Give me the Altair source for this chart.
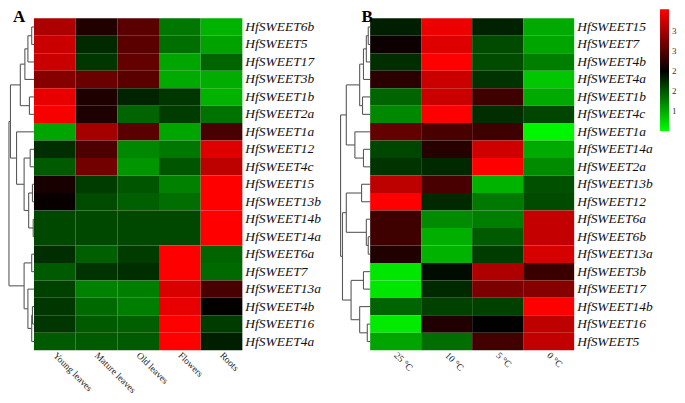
import altair as alt
import pandas as pd

SERIF = "Liberation Serif"

# ---------------- Panel A data ----------------
genes_a = ["HfSWEET6b", "HfSWEET5", "HfSWEET17", "HfSWEET3b", "HfSWEET1b", "HfSWEET2a",
           "HfSWEET1a", "HfSWEET12", "HfSWEET4c", "HfSWEET15", "HfSWEET13b", "HfSWEET14b",
           "HfSWEET14a", "HfSWEET6a", "HfSWEET7", "HfSWEET13a", "HfSWEET4b", "HfSWEET16", "HfSWEET4a"]
tissues = ["Young leaves", "Mature leaves", "Old leaves", "Flowers", "Roots"]
young_leaves = [3.05, 3.23, 3.23, 2.82, 3.41, 3.50, 1.03, 1.73, 1.47, 2.15, 2.05, 1.58, 1.58, 1.73, 1.47, 1.62, 1.68, 1.68, 1.47]
mature_leaves = [2.20, 1.76, 1.68, 2.65, 2.18, 2.18, 3.00, 2.47, 2.70, 1.65, 1.56, 1.58, 1.58, 1.44, 1.70, 1.24, 1.38, 1.47, 1.47]
old_leaves = [2.55, 2.55, 2.60, 2.55, 1.79, 1.41, 2.55, 1.20, 1.12, 1.50, 1.44, 1.58, 1.58, 1.65, 1.73, 1.26, 1.26, 1.44, 1.47]
flowers = [1.30, 1.35, 1.03, 1.00, 1.68, 1.65, 1.03, 1.30, 1.50, 1.24, 1.35, 1.58, 1.58, 3.55, 3.55, 3.32, 3.41, 3.55, 3.55]
roots = [0.95, 1.05, 1.41, 0.98, 0.95, 1.33, 2.44, 3.35, 3.15, 3.55, 3.55, 3.55, 3.55, 1.41, 1.38, 2.44, 2.02, 1.65, 1.82]

# linkage: (node, left, right, distance)
merges_a = [
    ("a1", "HfSWEET6b", "HfSWEET5", 3),
    ("a2", "a1", "HfSWEET17", 8),
    ("a3", "a2", "HfSWEET3b", 12),
    ("a4", "HfSWEET1b", "HfSWEET2a", 6),
    ("a5", "a3", "a4", 18),
    ("a6", "HfSWEET12", "HfSWEET4c", 5),
    ("a7", "HfSWEET15", "HfSWEET13b", 2),
    ("a8", "HfSWEET14b", "HfSWEET14a", 1),
    ("a9", "a7", "a8", 7),
    ("a10", "a6", "a9", 13),
    ("a11", "HfSWEET1a", "a10", 23),
    ("a12", "a5", "a11", 31),
    ("b1", "HfSWEET6a", "HfSWEET7", 3),
    ("b2", "HfSWEET4b", "HfSWEET16", 2),
    ("b3", "b2", "HfSWEET4a", 3),
    ("b4", "HfSWEET13a", "b3", 8),
    ("b5", "b1", "b4", 13),
    ("rootA", "a12", "b5", 33),
]

# ---------------- Panel B data ----------------
genes_b = ["HfSWEET15", "HfSWEET7", "HfSWEET4b", "HfSWEET4a", "HfSWEET1b", "HfSWEET4c",
           "HfSWEET1a", "HfSWEET14a", "HfSWEET2a", "HfSWEET13b", "HfSWEET12", "HfSWEET6a",
           "HfSWEET6b", "HfSWEET13a", "HfSWEET3b", "HfSWEET17", "HfSWEET14b", "HfSWEET16", "HfSWEET5"]
temps = ["25 °C", "10 °C", "5 °C", "0 °C"]
t25 = [1.82, 2.08, 1.73, 2.26, 1.41, 1.20, 2.60, 1.59, 1.70, 3.15, 3.55, 2.38, 2.38, 2.20, 0.65, 0.65, 1.41, 0.62, 1.03]
t10 = [3.44, 3.35, 3.55, 3.23, 3.23, 3.55, 2.44, 2.24, 1.76, 2.44, 1.76, 1.18, 0.97, 0.95, 1.93, 1.76, 1.62, 2.20, 1.35]
t5 = [1.80, 1.56, 1.56, 1.70, 2.38, 1.73, 2.38, 3.26, 3.55, 0.95, 1.29, 1.26, 1.47, 1.65, 3.06, 2.76, 1.62, 2.00, 2.41]
t0 = [1.00, 1.03, 1.26, 0.83, 1.00, 1.59, 0.56, 1.00, 1.18, 1.53, 1.56, 3.20, 3.20, 3.30, 2.35, 2.82, 3.55, 3.15, 3.18]

merges_b = [
    ("c1", "HfSWEET15", "HfSWEET7", 2),
    ("c2", "c1", "HfSWEET4b", 4),
    ("c3", "c2", "HfSWEET4a", 7),
    ("c4", "HfSWEET1b", "HfSWEET4c", 8),
    ("c5", "c3", "c4", 11),
    ("c6", "HfSWEET14a", "HfSWEET2a", 7),
    ("c7", "HfSWEET1a", "c6", 16),
    ("c8", "c5", "c7", 25),
    ("c9", "HfSWEET13b", "HfSWEET12", 9),
    ("c10", "HfSWEET6b", "HfSWEET13a", 2),
    ("c11", "HfSWEET6a", "c10", 4),
    ("c12", "c9", "c11", 25),
    ("c13", "HfSWEET3b", "HfSWEET17", 7),
    ("c14", "HfSWEET16", "HfSWEET5", 3),
    ("c15", "HfSWEET14b", "c14", 11),
    ("c16", "c13", "c15", 20),
    ("c17", "c12", "c16", 29),
    ("rootB", "c8", "c17", 31),
]

legend_values = [1, 1.5, 2, 2.5, 3]

ROW_DOMAIN = [-0.514, 21.6]
HEIGHT = 387

color_scale = alt.Scale(domain=[0.5, 2, 3.55], range=["#00ff00", "#000000", "#ff0000"],
                        interpolate="rgb", clamp=True)
legend = alt.Legend(title=None, orient="none", legendX=653, legendY=0, direction="vertical",
                    gradientLength=122, gradientThickness=9, gradientStrokeWidth=0,
                    values=legend_values, format="~g", labelFont=SERIF, labelFontSize=9,
                    labelColor="#333333", labelOffset=3, labelOverlap=False)


def heat_df(genes, cols, series):
    recs = []
    for c, (name, vals) in enumerate(zip(cols, series)):
        for r, (g, v) in enumerate(zip(genes, vals)):
            recs.append({"gene": g, "cond": name, "value": v,
                         "c0": c, "c1": c + 1, "r0": r, "r1": r + 1})
    return pd.DataFrame(recs)


def dendro_df(genes, merges, span):
    pos = {g: (i + 0.5, 0.0) for i, g in enumerate(genes)}
    k = span / merges[-1][3]
    segs = []
    for name, left, right, h in merges:
        yl, hl = pos[left]
        yr, hr = pos[right]
        segs.append({"x": -h * k, "x2": -h * k, "y": yl, "y2": yr})
        segs.append({"x": -hl * k, "x2": -h * k, "y": yl, "y2": yl})
        segs.append({"x": -hr * k, "x2": -h * k, "y": yr, "y2": yr})
        pos[name] = ((yl + yr) / 2, h)
    return pd.DataFrame(segs)


def panel(genes, cols, series, merges, letter, xdom, width, span, letter_dx):
    n = len(cols)
    xs = alt.Scale(domain=xdom, nice=False, zero=False)
    ys = alt.Scale(domain=ROW_DOMAIN, reverse=True, nice=False, zero=False)

    rects = alt.Chart(heat_df(genes, cols, series)).mark_rect().encode(
        x=alt.X("c0:Q", scale=xs, axis=None), x2="c1:Q",
        y=alt.Y("r0:Q", scale=ys, axis=None), y2="r1:Q",
        color=alt.Color("value:Q", scale=color_scale, legend=legend),
    )

    dend = alt.Chart(dendro_df(genes, merges, span)).mark_rule(
        color="#5a5a5a", strokeWidth=1.1).encode(
        x=alt.X("x:Q", scale=xs, axis=None), x2="x2:Q",
        y=alt.Y("y:Q", scale=ys, axis=None), y2="y2:Q",
    )

    gl = pd.DataFrame({"gene": genes, "r": [i + 0.5 for i in range(len(genes))],
                       "x": [n] * len(genes)})
    glabels = alt.Chart(gl).mark_text(
        align="left", baseline="middle", dx=3, font=SERIF, fontStyle="italic",
        fontSize=13.5, color="#111111").encode(
        x=alt.X("x:Q", scale=xs, axis=None), y=alt.Y("r:Q", scale=ys, axis=None),
        text="gene:N")

    cl = pd.DataFrame({"cond": cols, "c": [i + 0.5 for i in range(n)],
                       "y": [len(genes) + 0.2] * n})
    clabels = alt.Chart(cl).mark_text(
        align="left", baseline="middle", angle=45, font=SERIF, fontSize=9.5,
        color="#222222").encode(
        x=alt.X("c:Q", scale=xs, axis=None), y=alt.Y("y:Q", scale=ys, axis=None),
        text="cond:N")

    pl = pd.DataFrame({"t": [letter], "x": [xdom[0]], "y": [ROW_DOMAIN[0]]})
    plabel = alt.Chart(pl).mark_text(
        align="left", baseline="top", dx=letter_dx, font=SERIF, fontWeight="bold",
        fontSize=17, color="#000000").encode(
        x=alt.X("x:Q", scale=xs, axis=None), y=alt.Y("y:Q", scale=ys, axis=None),
        text="t:N")

    return alt.layer(rects, dend, glabels, clabels, plabel).properties(
        width=width, height=HEIGHT)


pA = panel(genes_a, tissues, [young_leaves, mature_leaves, old_leaves, flowers, roots],
           merges_a, "A", [-0.623, 7.331], 332, 0.6, 5)
pB = panel(genes_b, temps, [t25, t10, t5, t0], merges_b, "B",
           [-0.601, 5.664], 320, 0.58, 22)

chart = alt.hconcat(pA, pB, spacing=0).properties(padding=0, background="white") \
    .configure_view(strokeWidth=0)

chart.save("out.html", embed_options={"renderer": "svg", "actions": False})
